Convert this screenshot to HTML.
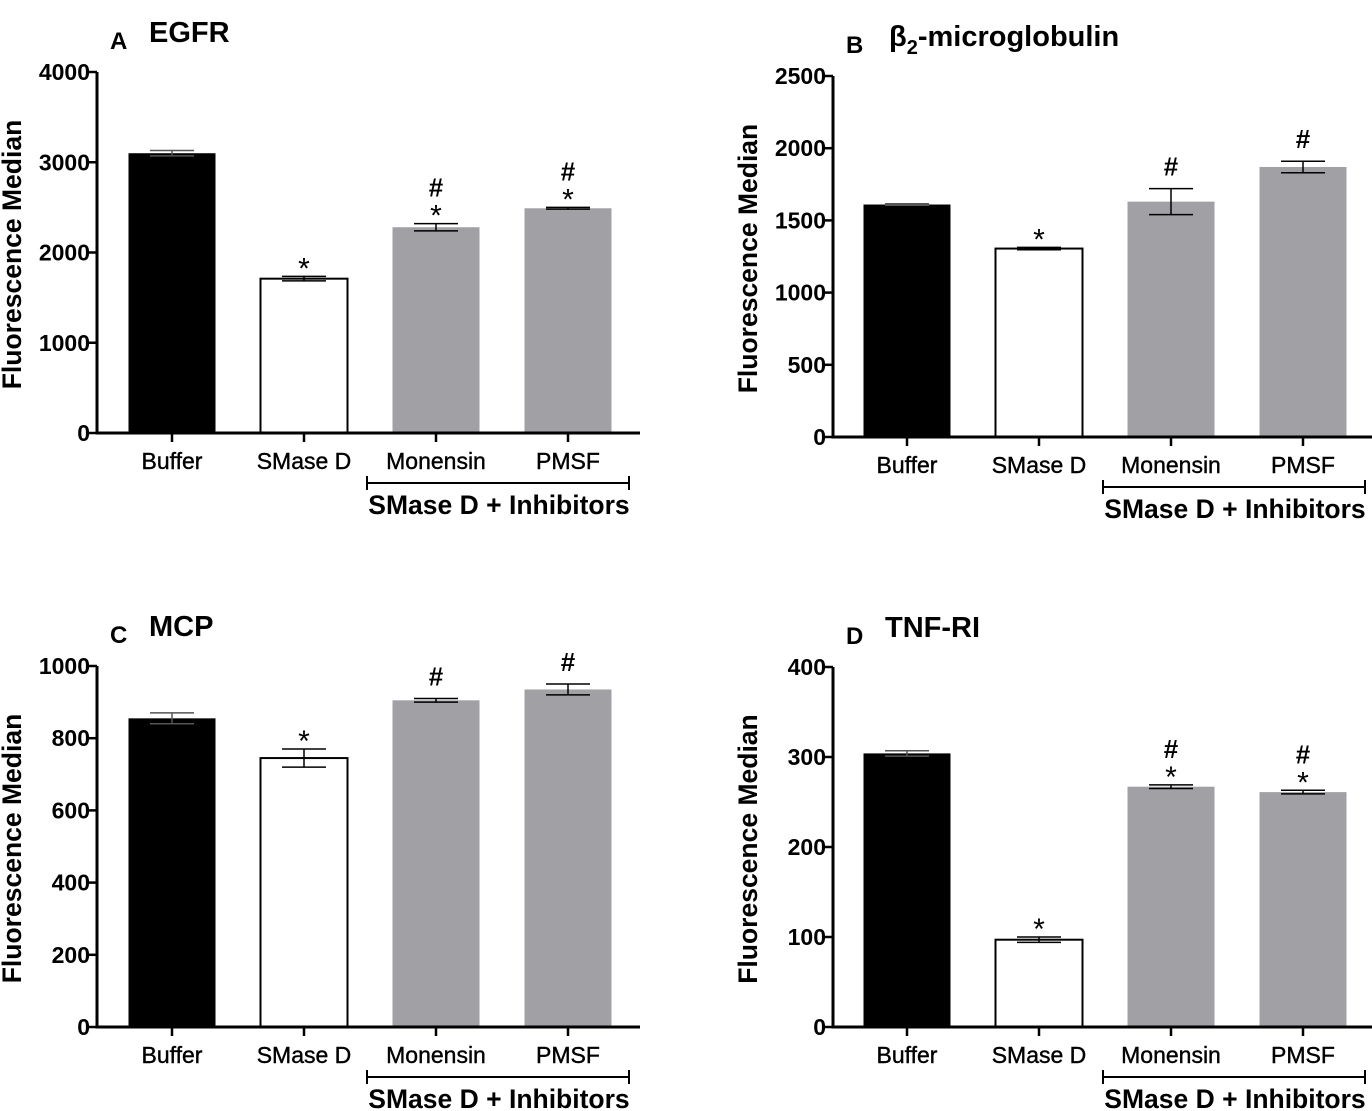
<!DOCTYPE html>
<html><head><meta charset="utf-8"><style>
body{margin:0;background:#fff;}
svg{display:block;font-family:"Liberation Sans",Arial,sans-serif;}
</style></head><body>
<svg id="chart" width="1372" height="1111" viewBox="0 0 1372 1111"></svg>
<script>
const categories = ["Buffer","SMase D","Monensin","PMSF"];
const egfrValues = [3100, 1710, 2280, 2490];
const egfrErrors = [30, 25, 40, 10];
const egfrMarks = ["", "*", "#*", "#*"];
const egfrTicks = [0, 1000, 2000, 3000, 4000];
const b2mValues = [1610, 1305, 1630, 1870];
const b2mErrors = [5, 8, 90, 40];
const b2mMarks = ["", "*", "#", "#"];
const b2mTicks = [0, 500, 1000, 1500, 2000, 2500];
const mcpValues = [855, 745, 905, 935];
const mcpErrors = [15, 25, 5, 15];
const mcpMarks = ["", "*", "#", "#"];
const mcpTicks = [0, 200, 400, 600, 800, 1000];
const tnfValues = [304, 97, 267, 261];
const tnfErrors = [3, 3, 2, 2];
const tnfMarks = ["", "*", "#*", "#*"];
const tnfTicks = [0, 100, 200, 300, 400];

const NS = "http://www.w3.org/2000/svg";
const svg = document.getElementById('chart');
function mk(tag, attrs, parent, text){
  const e = document.createElementNS(NS, tag);
  for (const k in attrs) e.setAttribute(k, attrs[k]);
  if (text !== undefined) e.textContent = text;
  (parent||svg).appendChild(e);
  return e;
}
const fills = ["#000","#fff","#a1a0a5","#a1a0a5"];

function panel(id, letter, title, ax, y0, ytop, ticks, vals, errs, marks, barX){
  const g = mk('g', {});
  
  
  const maxV = ticks[ticks.length-1];
  const yScale = v => y0 - (v / maxV) * (y0 - ytop);
  const xC = i => barX + 22 + i * 132 + 44;
  const lt = mk('text', {x: ax + 13, y: ytop - 23, 'font-size': 24, 'font-weight': 'bold'}, g, letter);
   
  const tt = mk('text', {x: ax + 52, y: ytop - 30, 'font-size': 29, 'font-weight': 'bold'}, g);
   
  if (title === 'b2m') {
    tt.setAttribute('x', ax + 56);
    mk('tspan', {}, tt, 'β');
    mk('tspan', {'font-size': 20, dy: 8}, tt, '2');
    mk('tspan', {dy: -8}, tt, '-microglobulin');
  } else tt.textContent = title;
  const cy = (y0 + ytop) / 2 + 2;
  const yt = mk('text', {x: ax - 76, y: cy, 'font-size': 26.5, 'font-weight': 'bold', 'text-anchor': 'middle', transform: `rotate(-90 ${ax-76} ${cy})`}, g, 'Fluorescence Median');
   
  vals.forEach((v, i) => {
    const yv = yScale(v);
    const r = mk('rect', {x: xC(i) - 43.5, y: yv, width: 87, height: y0 - yv, fill: fills[i], stroke: '#000', 'stroke-width': i === 1 ? 2 : 0}, g);
    
    
    const yh = yScale(v + errs[i]), yl = yScale(v - errs[i]);
    const eb = mk('path', {d: `M${xC(i)} ${yh}V${yl}M${xC(i)-22} ${yh}H${xC(i)+22}M${xC(i)-22} ${yl}H${xC(i)+22}`, stroke: i === 0 ? '#555' : '#000', 'stroke-width': 1.5, fill: 'none'}, g);
     
    const m = marks[i];
    let y = yh - 13;
    if (m.includes('*')) {
      const s = mk('text', {x: xC(i), y: yh + 2, 'font-size': 30, 'text-anchor': 'middle'}, g, '*');
       
      y = yh - 27;
    }
    if (m.includes('#')) {
      const h = mk('text', {x: xC(i), y: y, 'font-size': 26, 'font-weight': 'bold', 'text-anchor': 'middle'}, g, '#');
       
    }
  });
  const axl = mk('path', {d: `M${ax} ${ytop}V${y0}H${ax+543}`, stroke: '#000', 'stroke-width': 3, fill: 'none'}, g);
   
  ticks.forEach(t => {
    const y = yScale(t);
    mk('line', {x1: ax - 9, x2: ax, y1: y, y2: y, stroke: '#000', 'stroke-width': 2.5}, g);
    const tl = mk('text', {x: ax - 7, y: y + 8, 'font-size': 23, 'font-weight': 'bold', 'text-anchor': 'end'}, g, String(t));
     
  });
  categories.forEach((c, i) => {
    mk('line', {x1: xC(i), x2: xC(i), y1: y0, y2: y0 + 9, stroke: '#000', 'stroke-width': 2.5}, g);
    const cl = mk('text', {x: xC(i), y: y0 + 36, 'font-size': 23, 'text-anchor': 'middle', 'stroke': '#000', 'stroke-width': 0.4}, g, c);
     
  });
  const bx1 = ax + 270, bx2 = ax + 532, by = y0 + 50;
  const br = mk('path', {d: `M${bx1} ${by-7}V${by+7}M${bx1} ${by}H${bx2}M${bx2} ${by-7}V${by+7}`, stroke: '#000', 'stroke-width': 2, fill: 'none'}, g);
   
  const bl = mk('text', {x: (bx1 + bx2) / 2 + 1, y: by + 31, 'font-size': 26.5, 'font-weight': 'bold', 'text-anchor': 'middle'}, g, 'SMase D + Inhibitors');
   
}
panel('a', 'A', 'EGFR', 97, 433, 72, egfrTicks, egfrValues, egfrErrors, egfrMarks, 106);
panel('b', 'B', 'b2m', 833, 437, 76, b2mTicks, b2mValues, b2mErrors, b2mMarks, 841);
panel('c', 'C', 'MCP', 97, 1027, 666, mcpTicks, mcpValues, mcpErrors, mcpMarks, 106);
panel('d', 'D', 'TNF-RI', 833, 1027, 667, tnfTicks, tnfValues, tnfErrors, tnfMarks, 841);
</script>
</body></html>
